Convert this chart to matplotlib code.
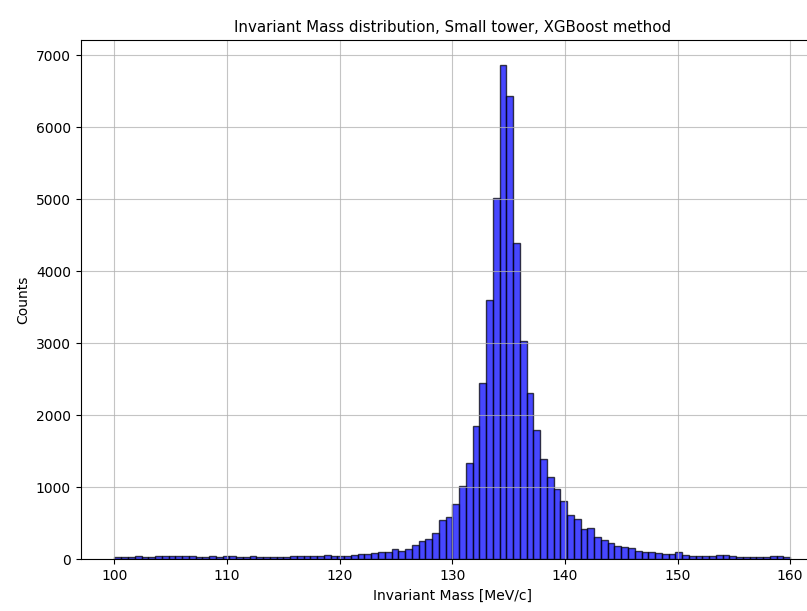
import numpy as np
import matplotlib
matplotlib.use("Agg")
import matplotlib.pyplot as plt

# === Histogram: 100 bins of 0.6 MeV/c from 100 to 160 ===
bin_edges = np.linspace(100, 160, 101)

counts_low_tail = [35, 38, 36, 40, 38, 35, 42, 40, 45, 48,
                   45, 40, 38, 36, 40, 38, 42, 50, 35, 32,
                   40, 30, 35, 33, 38, 35, 40, 42, 45, 50,
                   52, 55, 50]
counts_rise = [45, 50, 60, 70, 80, 85, 95, 100, 140, 120,
               145, 200, 250, 285, 360, 550, 590]
counts_peak = [775, 1020, 1340, 1845, 2450, 3605, 5025, 6870, 6440, 4400,
               3030, 2305, 1800, 1390, 1150, 975, 805, 619, 560, 415]
counts_high_tail = [440, 316, 270, 223, 190, 177, 153, 116, 98, 98,
                    90, 80, 70, 95, 60, 50, 48, 45, 45, 55,
                    55, 40, 38, 35, 35, 33, 32, 40, 45, 30]

counts = np.array(counts_low_tail + counts_rise + counts_peak + counts_high_tail)
centers = 0.5 * (bin_edges[:-1] + bin_edges[1:])

title = 'Invariant Mass distribution, Small tower, XGBoost method'

# === Plot ===
fig = plt.figure(figsize=(8.07, 6.11), dpi=100)
# the reference is cropped on the right, so the axes run past the figure edge
ax = fig.add_axes([0.1, 0.0846, 0.921, 0.85])

ax.hist(centers, bins=bin_edges, weights=counts,
        color='blue', alpha=0.72, edgecolor='black')
ax.set_title(title, fontsize=10.8)
ax.set_xlabel('Invariant Mass [MeV/c]', fontsize=10)
ax.set_ylabel('Counts', fontsize=10)
ax.tick_params(labelsize=10)
ax.grid(True, color='#b0b0b0', alpha=0.75)

fig.savefig('out.png', dpi=100)
